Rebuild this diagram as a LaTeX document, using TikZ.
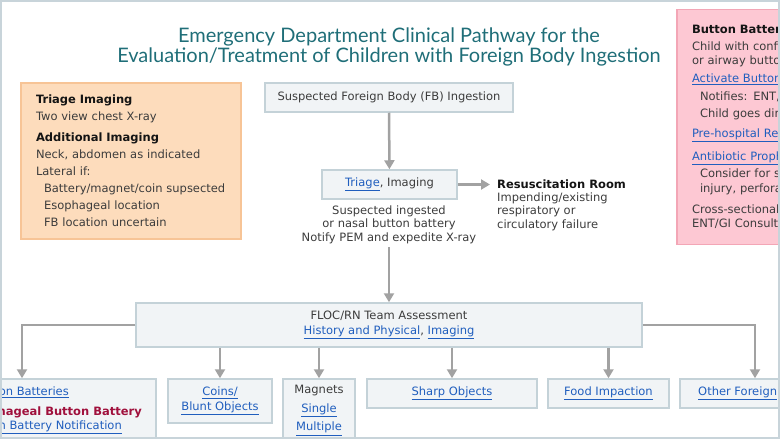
\documentclass[tikz,border=0pt]{standalone}
\usepackage{fontspec}
\setmainfont{DejaVu Sans}
\newfontfamily\titlefont{Lato}
\usetikzlibrary{arrows.meta}

\definecolor{titleteal}{RGB}{31,110,120}
\definecolor{textgray}{RGB}{60,60,60}
\definecolor{headblack}{RGB}{20,20,20}
\definecolor{linkblue}{RGB}{32,94,190}
\definecolor{darkred}{RGB}{160,16,60}
\definecolor{boxfill}{RGB}{241,244,246}
\definecolor{boxline}{RGB}{196,210,216}
\definecolor{orangefill}{RGB}{253,220,188}
\definecolor{orangeline}{RGB}{247,196,150}
\definecolor{pinkfill}{RGB}{253,200,211}
\definecolor{pinkline}{RGB}{243,166,182}
\definecolor{arrowgray}{RGB}{162,162,162}
\definecolor{framegray}{RGB}{200,212,218}

\newcommand{\lnk}[1]{\textcolor{linkblue}{\underline{#1}}}
\newcommand{\head}[1]{\textcolor{headblack}{\bfseries #1}}

\begin{document}
\begin{tikzpicture}[x=1pt,y=-1pt,align=center,text=textgray,
  font=\fontsize{11.5}{13.5}\selectfont,
  box/.style={draw=boxline,fill=boxfill,line width=1.5pt,inner sep=0pt},
  arr/.style={draw=arrowgray,line width=2.5pt,-{Triangle[width=10pt,length=9pt]}}]

\useasboundingbox (0,0) rectangle (780,439);
\clip (0,0) rectangle (780,439);

\node[text=titleteal,font=\titlefont\fontsize{20}{20}\selectfont] (title) at (389,47)
  {Emergency Department Clinical Pathway for the\\Evaluation/Treatment of Children with Foreign Body Ingestion};

% side notes
\node[draw=orangeline,fill=orangefill,line width=1.5pt,minimum width=220pt,minimum height=156pt,
  inner xsep=15pt,text width=190pt,align=left,font=\fontsize{11.5}{17}\selectfont] (imaging) at (131,161) {
  \head{Triage Imaging}\\
  Two view chest X-ray\\[4pt]
  \head{Additional Imaging}\\
  Neck, abdomen as indicated\\
  Lateral if:\\
  \hspace*{8pt}Battery/magnet/coin supsected\\
  \hspace*{8pt}Esophageal location\\
  \hspace*{8pt}FB location uncertain};

\node[draw=pinkline,fill=pinkfill,line width=1.5pt,minimum width=250pt,minimum height=235pt,
  inner xsep=15pt,text width=220pt,align=left,font=\fontsize{11.5}{14}\selectfont] (battery) at (802,127) {
  \head{Button Batter}\\[3pt]
  Child with confir\\
  or airway button\\[4pt]
  \lnk{Activate Button}\\[4pt]
  \hspace*{8pt}Notifies: ENT,\\[3pt]
  \hspace*{8pt}Child goes dire\\[6pt]
  \lnk{Pre-hospital Rec}\\[9pt]
  \lnk{Antibiotic Proph}\\[3pt]
  \hspace*{8pt}Consider for se\\[1pt]
  \hspace*{8pt}injury, perfora\\[7pt]
  Cross-sectional\\
  ENT/GI Consult};

% main flow
\node[box,minimum width=248pt,minimum height=29pt] (suspect) at (389,97.5) {Suspected Foreign Body (FB) Ingestion};
\node[box,minimum width=135pt,minimum height=29pt] (triage) at (389.5,184.5) {\lnk{Triage}, Imaging};
\node[anchor=west,inner sep=0pt] (resus) at (497,184.5) {\head{Resuscitation Room}};
\node[anchor=west,inner sep=0pt,align=left] (failure) at (497,211.5) {Impending/existing\\respiratory or\\circulatory failure};
\node (notify) at (389,224.5) {Suspected ingested\\or nasal button battery\\Notify PEM and expedite X-ray};
\node[box,minimum width=506pt,minimum height=44pt,font=\fontsize{11.5}{15}\selectfont] (floc) at (389,325)
  {FLOC/RN Team Assessment\\\lnk{History and Physical}, \lnk{Imaging}};

% branches
\node[box,minimum width=268pt,minimum height=81pt] (button) at (22,419.5) {};
\node[anchor=east,inner sep=0pt] (btnlink) at (69,392) {\lnk{on Batteries}};
\node[anchor=east,inner sep=0pt] (btnred) at (142,412) {\textcolor{darkred}{\bfseries phageal Button Battery}};
\node[anchor=east,inner sep=0pt] (btnnote) at (122,427) {\lnk{n Battery Notification}};
\node[box,minimum width=104pt,minimum height=44pt,font=\fontsize{11.5}{15}\selectfont] (coins) at (220,401) {\lnk{Coins/}\\\lnk{Blunt Objects}};
\node[box,minimum width=72pt,minimum height=81pt] (magnets) at (319,419.5) {};
\node[font=\fontsize{11.5}{18.5}\selectfont] (magtext) at (319,410.5) {Magnets\\\lnk{Single}\\\lnk{Multiple}};
\node[box,minimum width=170pt,minimum height=29pt] (sharp) at (452,393.5) {\lnk{Sharp Objects}};
\node[box,minimum width=121pt,minimum height=29pt] (food) at (608.5,393.5) {\lnk{Food Impaction}};
\node[box,minimum width=150pt,minimum height=29pt] (other) at (755,393.5) {};
\node[anchor=west,inner sep=0pt] (othertext) at (698,393.5) {\lnk{Other Foreign}};

\draw[arr] (suspect) -- (triage);
\draw[arr,shorten >=7pt] (triage.east) -- (resus.west);
\draw[arr] (notify) -- (floc);
\draw[arr] (floc.west) -| (button.north);
\draw[arr] (floc.east) -| (other.north);
\draw[arr] (floc.south -| coins.north) -- (coins.north);
\draw[arr] (floc.south -| magnets.north) -- (magnets.north);
\draw[arr] (floc.south -| sharp.north) -- (sharp.north);
\draw[arr] (floc.south -| food.north) -- (food.north);

\draw[framegray,line width=2pt] (1,1) rectangle (779,438);

\end{tikzpicture}
\end{document}
